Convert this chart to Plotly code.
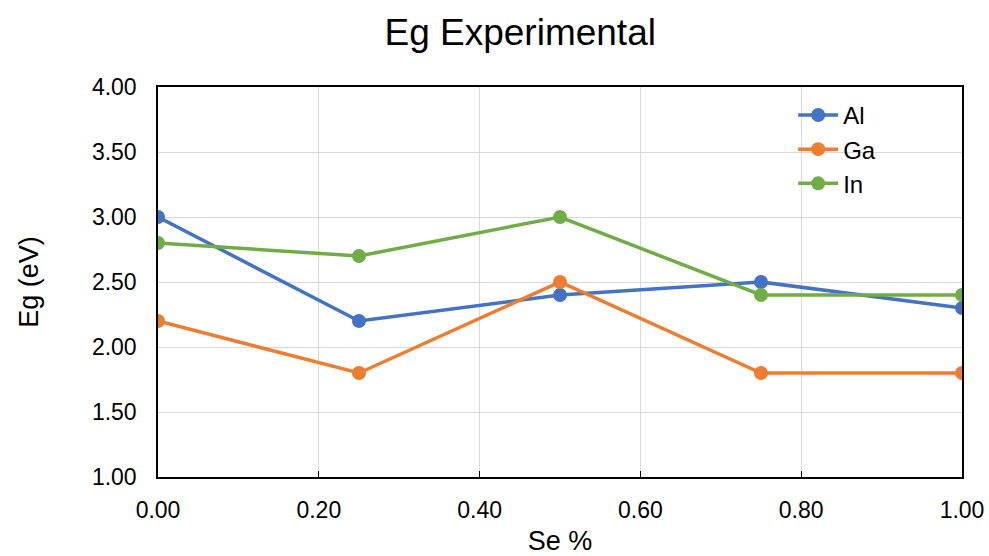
import plotly.graph_objects as go

se = [0.0, 0.25, 0.5, 0.75, 1.0]
al = [3.0, 2.2, 2.4, 2.5, 2.3]
ga = [2.2, 1.8, 2.5, 1.8, 1.8]
in_ = [2.8, 2.7, 3.0, 2.4, 2.4]
names = ["Al", "Ga", "In"]
colors = ["#4472C4", "#ED7D31", "#70AD47"]

fig = go.Figure()
for name, ys, c in zip(names, [al, ga, in_], colors):
    fig.add_trace(go.Scatter(x=se, y=ys, name=name, mode="lines+markers",
                             line=dict(color=c, width=3.5),
                             marker=dict(color=c, size=14)))

font = "Liberation Sans, Arial, sans-serif"
fig.update_layout(
    width=989, height=556,
    margin=dict(l=158, r=27, t=87, b=79, autoexpand=False),
    paper_bgcolor="white", plot_bgcolor="white",
    font=dict(family=font, size=23, color="#000000"),
    title=dict(text="Eg Experimental", x=0.526, xanchor="center", y=0.942, yanchor="middle",
               font=dict(size=37, family=font, color="#000000")),
    legend=dict(x=0.79, y=0.985, xanchor="left", yanchor="top", bgcolor="rgba(0,0,0,0)",
                font=dict(size=24), tracegroupgap=0, itemwidth=40),
    showlegend=True,
)
fig.update_xaxes(range=[0, 1], tickvals=[0, 0.2, 0.4, 0.6, 0.8, 1.0],
                 ticktext=["0.00", "0.20", "0.40", "0.60", "0.80", "1.00"],
                 showgrid=True, gridcolor="#D9D9D9", gridwidth=1.3,
                 showline=True, linecolor="#000000", linewidth=1.5, mirror=True,
                 ticks="inside", ticklen=6, tickcolor="#000000",
                 ticklabelstandoff=12, zeroline=False, automargin=False,
                 title=dict(text="Se %", font=dict(size=27), standoff=14))
fig.update_yaxes(range=[1, 4], tickvals=[1, 1.5, 2, 2.5, 3, 3.5, 4],
                 ticktext=["1.00", "1.50", "2.00", "2.50", "3.00", "3.50", "4.00"],
                 showgrid=True, gridcolor="#D9D9D9", gridwidth=1.3,
                 showline=True, linecolor="#000000", linewidth=1.5, mirror=True,
                 ticks="", ticklabelstandoff=15, zeroline=False, automargin=False,
                 title=dict(text="Eg (eV)", font=dict(size=27), standoff=45))
fig.write_html("out.html")
